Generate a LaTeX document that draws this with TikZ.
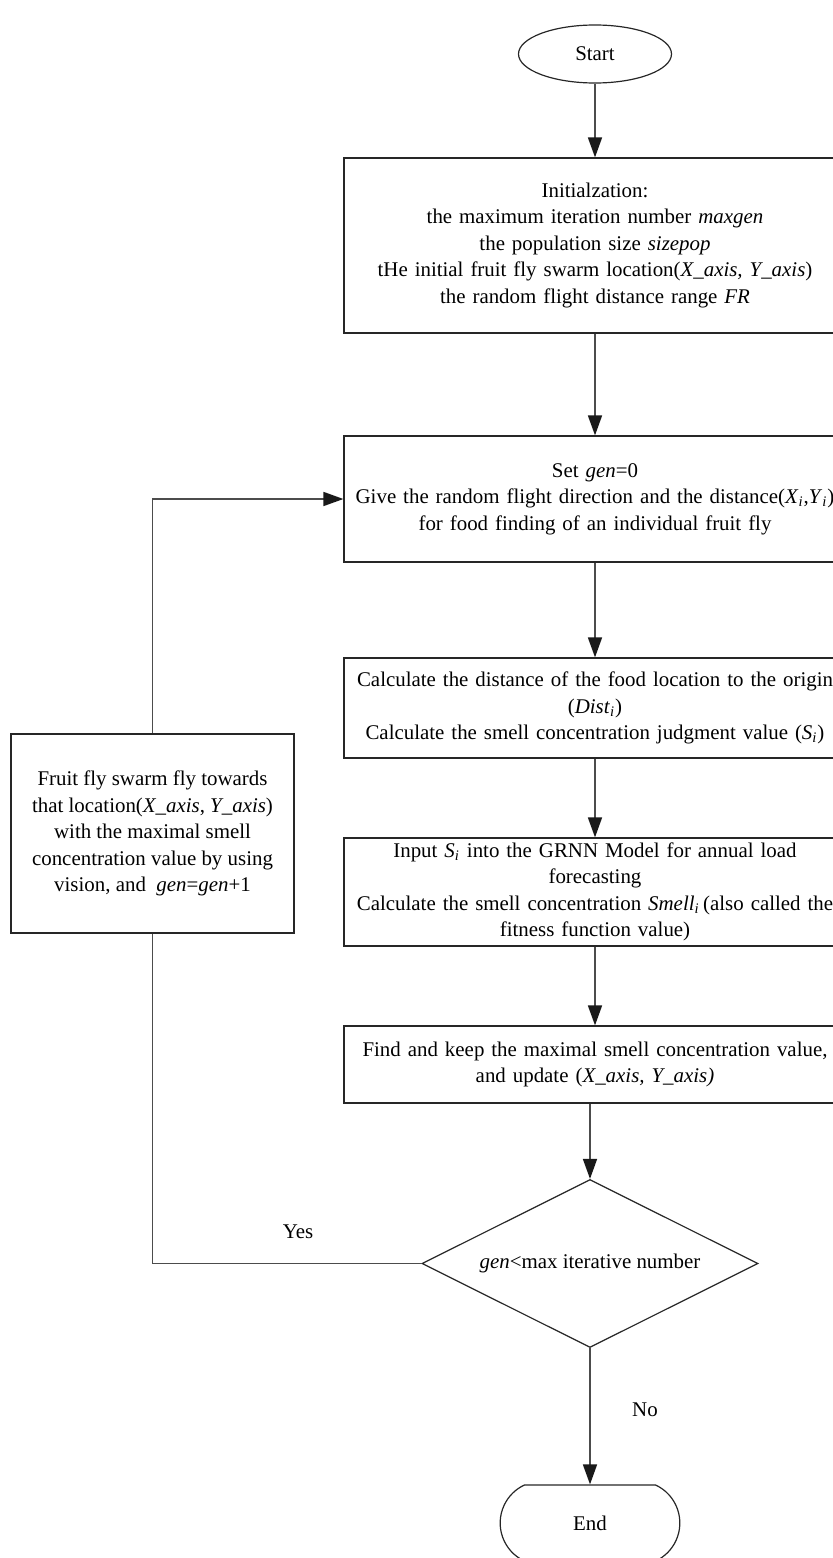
\documentclass[tikz,border=0pt]{standalone}
\usepackage{fontspec}
\setmainfont{Liberation Serif}
\usepackage{tikz}
\usetikzlibrary{arrows.meta}
\usetikzlibrary{shapes.geometric}
\usetikzlibrary{shapes.misc}
\newcommand{\vsub}[2]{\textit{#1}\textsubscript{\textit{#2}}}
\tikzset{
  stepbox/.style={draw=black!85,line width=0.6pt,rectangle,align=center,
    minimum width=251pt,text width=247pt,inner sep=0pt},
  flowline/.style={draw=black!70,line width=0.8pt},
  flowarrow/.style={flowline,-{Triangle[length=10pt,width=7pt,color=black!90]}},
}
\begin{document}
\begin{tikzpicture}[x=0.5pt,y=-0.5pt,font=\fontsize{10.45}{13.25}\selectfont]
\useasboundingbox (0,0) rectangle (833,1558);
\clip (0,0) rectangle (833,1558);
% nodes
\node[draw=black!85,line width=0.6pt,ellipse,minimum width=76.5pt,minimum height=29pt] (start) at (595,54) {Start};
\node[stepbox,minimum height=87.5pt] (init) at (595,245.5) {Initialzation:\\
  the maximum iteration number \textit{maxgen}\\
  the population size \textit{sizepop}\\
  tHe initial fruit fly swarm location(\textit{X\_axis, Y\_axis})\\
  the random flight distance range \textit{FR}};
\node[stepbox,minimum height=63pt] (setgen) at (595,499) {Set \textit{gen}=0\\
  Give the random flight direction and the distance(\vsub{X}{i},\vsub{Y}{i})\\
  for food finding of an individual fruit fly};
\node[stepbox,minimum height=50pt] (calc) at (595,708) {Calculate the distance of the food location to the origin\\
  (\vsub{Dist}{i})\\
  Calculate the smell concentration judgment value (\vsub{S}{i})};
\node[stepbox,minimum height=54pt] (input) at (595,892) {Input \vsub{S}{i} into the GRNN Model for annual load\\
  forecasting\\
  Calculate the smell concentration \vsub{Smell}{i}\,(also called the\\
  fitness function value)};
\node[stepbox,minimum height=38.5pt] (find) at (595,1064.5) {Find and keep the maximal smell concentration value,\\
  and update (\textit{X\_axis, Y\_axis)}};
\node[draw=black!85,line width=0.6pt,diamond,minimum width=168pt,minimum height=84pt,inner sep=0pt] (dec) at (590,1263.5) {\makebox[0pt]{\textit{gen}<max iterative number}};
\node[draw=black!85,line width=0.6pt,rounded rectangle,rounded rectangle arc length=130,minimum width=96.5pt,minimum height=38pt] (end) at (590,1523) {End};
\node[draw=black!85,line width=0.6pt,rectangle,align=center,minimum width=141.5pt,minimum height=99.5pt,inner sep=0pt] (back) at (152.5,833.5) {Fruit fly swarm fly towards\\
  that location(\textit{X\_axis}, \textit{Y\_axis})\\
  with the maximal smell\\
  concentration value by using\\
  vision, and~ \textit{gen}=\textit{gen}+1};
\node (yes) at (298,1232) {Yes};
\node (no) at (645,1410) {No};
% connectors
\draw[flowarrow] (start) -- (init);
\draw[flowarrow] (init) -- (setgen);
\draw[flowarrow] (setgen) -- (calc);
\draw[flowarrow] (calc) -- (input);
\draw[flowarrow] (input) -- (find);
\draw[flowarrow] (dec.north |- find.south) -- (dec.north);
\draw[flowarrow] (dec) -- (end);
\draw[flowline] (dec.west) -| (back.south);
\draw[flowarrow] (back.north) |- (setgen.west);
\end{tikzpicture}
\end{document}
